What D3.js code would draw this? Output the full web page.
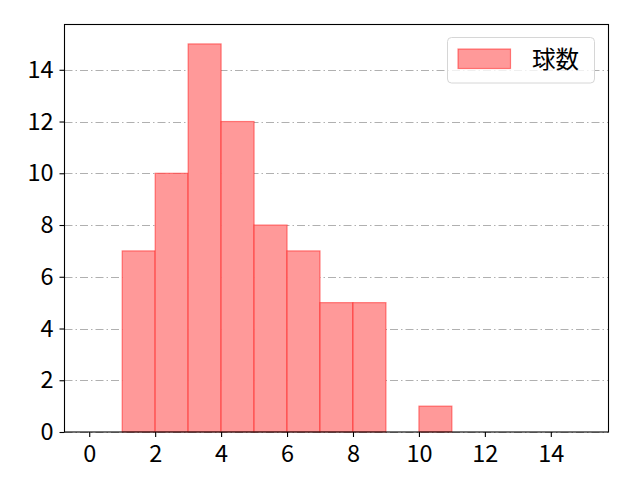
<!DOCTYPE html>
<html>
<head>
<meta charset="utf-8">
<script src="https://cdn.jsdelivr.net/npm/d3@7"></script>
<style>
  body { margin: 0; background: #fff; }
  text { font-family: "Noto Sans CJK JP", "DejaVu Sans", sans-serif; }
</style>
</head>
<body>
<svg id="chart" width="640" height="480"></svg>
<script>
// histogram bins (left edge) and counts
const binStarts = [1, 2, 3, 4, 5, 6, 7, 8, 9, 10]
const counts = [7, 10, 15, 12, 8, 7, 5, 5, 0, 1]
const xTicks = [0, 2, 4, 6, 8, 10, 12, 14]
const yTicks = [0, 2, 4, 6, 8, 10, 12, 14]
const seriesName = '球数'

const svg = d3.select('#chart')
const mLeft = 64.5, mRight = 608.5, mTop = 24.5, mBottom = 432
const fontSize = 23.5

let x = d3.scaleLinear().domain([-0.75, 15.75]).range([mLeft, mRight])
let y = d3.scaleLinear().domain([0, 15.75]).range([mBottom, mTop])

// grid
svg.append('g').selectAll('line')
    .data(yTicks)
  .enter().append('line')
    .attr('x1', mLeft).attr('x2', mRight)
    .attr('y1', d => Math.round(y(d)) + 0.5)
    .attr('y2', d => Math.round(y(d)) + 0.5)
    .attr('stroke', '#b0b0b0')
    .attr('stroke-width', 1)
    .attr('stroke-dasharray', '8,3,1.5,3')

// bars
svg.append('g').selectAll('rect')
    .data(binStarts.map((b, i) => [b, counts[i]]).filter(d => d[1] > 0))
  .enter().append('rect')
    .attr('x', d => x(d[0]))
    .attr('width', d => x(d[0] + 1) - x(d[0]))
    .attr('y', d => y(d[1]))
    .attr('height', d => y(0) - y(d[1]))
    .attr('fill', '#ff9999')
    .attr('stroke', 'rgba(255,0,0,0.45)')
    .attr('stroke-width', 1.2)

// axes
let xAxis = svg.append('g')
    .attr('transform', 'translate(0,' + mBottom + ')')
    .call(d3.axisBottom(x).tickValues(xTicks).tickSize(5).tickPadding(8))
let yAxis = svg.append('g')
    .attr('transform', 'translate(' + mLeft + ',0)')
    .call(d3.axisLeft(y).tickValues(yTicks).tickSize(5).tickPadding(6))
;[xAxis, yAxis].forEach(a => {
  a.select('.domain').remove()
  a.selectAll('.tick line').attr('stroke', '#000').attr('stroke-width', 1.1)
  a.selectAll('.tick text').attr('font-size', fontSize).attr('fill', '#000')
    .style('font-family', '"Noto Sans CJK JP", sans-serif')
})

// frame
svg.append('rect')
    .attr('x', mLeft).attr('y', mTop)
    .attr('width', mRight - mLeft).attr('height', mBottom - mTop)
    .attr('fill', 'none').attr('stroke', '#000').attr('stroke-width', 1.1)

// legend
let legend = svg.append('g')
legend.append('rect')
    .attr('x', 447.5).attr('y', 37.5).attr('width', 147).attr('height', 45.5)
    .attr('rx', 4).attr('fill', 'rgba(255,255,255,0.8)')
    .attr('stroke', '#d6d6d6').attr('stroke-width', 1)
legend.append('rect')
    .attr('x', 458).attr('y', 49).attr('width', 52.5).attr('height', 19.5)
    .attr('fill', '#ff9999').attr('stroke', 'rgba(255,0,0,0.45)').attr('stroke-width', 1.2)
legend.append('text')
    .attr('x', 532).attr('y', 68)
    .attr('font-size', fontSize).attr('fill', '#000')
    .text(seriesName)
</script>
</body>
</html>
